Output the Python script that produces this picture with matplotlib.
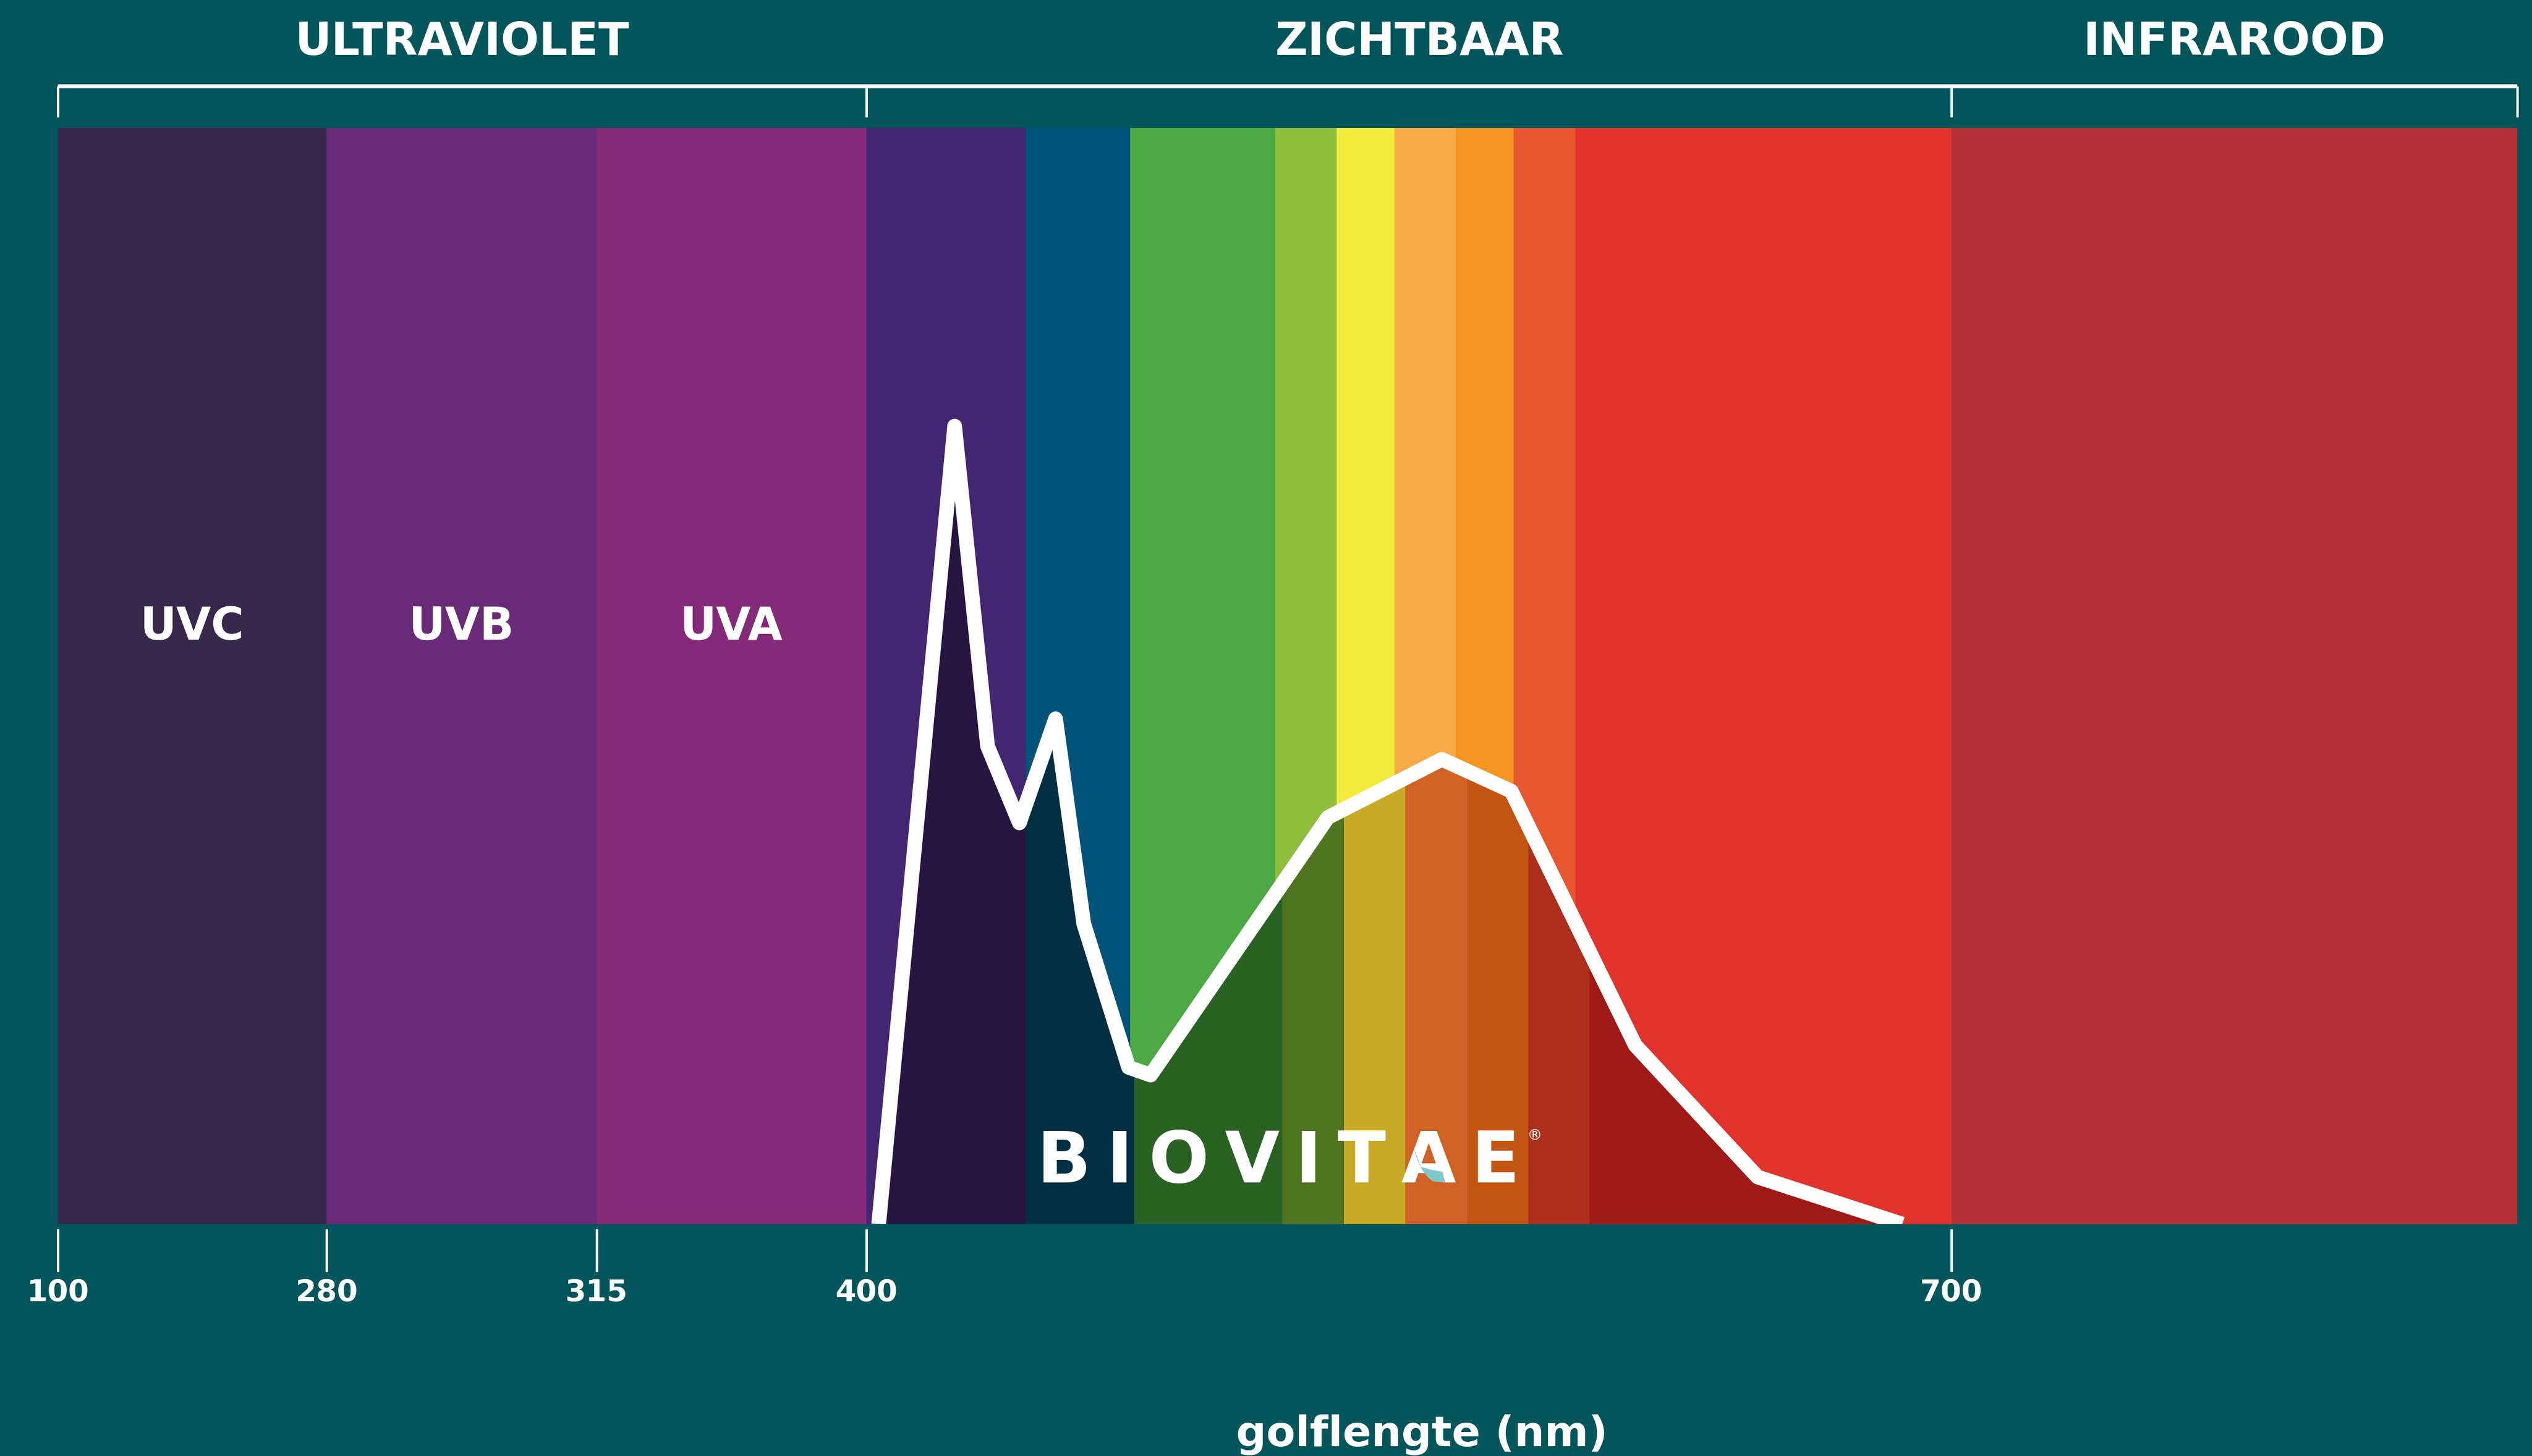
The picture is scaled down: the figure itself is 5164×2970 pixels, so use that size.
import matplotlib
matplotlib.use("Agg")
import matplotlib.pyplot as plt
import matplotlib.patches as mpatches
from matplotlib.path import Path
import numpy as np

# --- data -------------------------------------------------------------
# wavelength knots and where they sit along the (non-linear) x axis
wl_knots = [100, 280, 315, 400, 700, 1000]
pos_knots = [0, 548, 1099, 1649, 3862, 5016]

tick_wl = [100, 280, 315, 400, 700]
tick_labels = ["100", "280", "315", "400", "700"]

region_edges = [100, 400, 700, 1000]
region_names = ["ULTRAVIOLET", "ZICHTBAAR", "INFRAROOD"]

uv_names = ["UVC", "UVB", "UVA"]

band_edges = [100, 280, 315, 400, 444, 473, 513, 530, 546, 563, 579, 596, 700, 1000]
band_colors = ["#37284C", "#692A77", "#852A79", "#432672", "#015379", "#4BA843",
               "#8EBE3C", "#F4EA3C", "#F5AA46", "#F69522", "#E8562F", "#E2322C",
               "#B33134"]

shade_edges = [400, 444, 474, 515, 532, 549, 566, 583, 600, 700]
shade_colors = ["#261542", "#002F43", "#2A6224", "#4F7420", "#C8AA26",
                "#D06226", "#C45412", "#AB2F1A", "#9F1A17"]

# lamp spectrum (relative intensity, 0-100)
spec_wl = [403.4, 424.4, 433.5, 442.3, 452.3, 460.1, 472.5, 478.6,
           527.6, 559.1, 578.3, 612.6, 646.4, 686.4]
spec_val = [0, 72.8, 43.6, 36.6, 46.1, 27.4, 14.3, 13.6,
            37.1, 42.4, 39.5, 16.3, 4.3, 0]

bg = "#02565B"
W, H = 5164, 2970


def fwd(x):
    return np.interp(x, wl_knots, pos_knots)


def inv(p):
    return np.interp(p, pos_knots, wl_knots)


fig = plt.figure(figsize=(W / 100, H / 100), dpi=100, facecolor=bg)
ax = fig.add_axes([118 / W, (H - 2497) / H, (5134 - 118) / W, (2497 - 261) / H])
ax.set_facecolor(bg)
ax.set_xscale("function", functions=(fwd, inv))
ax.set_xlim(100, 1000)
ax.set_ylim(0, 100)

# colour bands
for i, c in enumerate(band_colors):
    ax.axvspan(band_edges[i], band_edges[i + 1], color=c, lw=0, zorder=1)

# darker bands under the spectrum curve
under = mpatches.Polygon(list(zip(spec_wl, spec_val)) + [(spec_wl[0], 0)],
                         closed=True, facecolor="none", edgecolor="none")
ax.add_patch(under)
for i, c in enumerate(shade_colors):
    r = ax.axvspan(shade_edges[i], shade_edges[i + 1], color=c, lw=0, zorder=2)
    r.set_clip_path(under)

ax.plot(spec_wl, spec_val, color="white", lw=21.6, solid_joinstyle="round",
        solid_capstyle="butt", zorder=3)

# UV band labels
for i, name in enumerate(uv_names):
    xc = inv((fwd(band_edges[i]) + fwd(band_edges[i + 1])) / 2)
    ax.text(xc, 53.3, name, color="white", fontsize=66, fontweight="bold",
            ha="center", va="baseline", zorder=4)

# bracket and region titles above the plot
xt = ax.get_xaxis_transform()
ax.plot([region_edges[0], region_edges[-1]], [1.038, 1.038], transform=xt,
        color="white", lw=5.8, solid_capstyle="butt", clip_on=False)
for e in region_edges:
    ax.plot([e, e], [1.010, 1.038], transform=xt, color="white", lw=3.6,
            solid_capstyle="butt", clip_on=False)
for i, name in enumerate(region_names):
    xc = inv((fwd(region_edges[i]) + fwd(region_edges[i + 1])) / 2)
    if name == "ZICHTBAAR":
        xc = 553
    ax.text(xc, 1.0667, name, transform=xt, color="white", fontsize=66,
            fontweight="bold", ha="center", va="baseline", clip_on=False)

# axis ticks
for s in ax.spines.values():
    s.set_visible(False)
ax.spines["bottom"].set_position(("outward", 7.2))
ax.set_yticks([])
ax.set_xticks(tick_wl)
ax.set_xticklabels(tick_labels)
ax.xaxis.set_minor_locator(matplotlib.ticker.NullLocator())
ax.tick_params(axis="x", direction="out", length=62.6, width=3.6, color="white",
               pad=10, labelsize=44, labelcolor="white")
for lab in ax.get_xticklabels():
    lab.set_fontweight("bold")

fig.text(2900 / W, (H - 2949) / H, "golflengte (nm)", color="white",
         fontsize=62, fontweight="bold", ha="center", va="baseline")

# BIOVITAE logo: letters spread evenly between x=2115 and x=3100 px
logo = "BIOVITAE"
logo_left, logo_right, logo_base = 2115, 3100, 2412
renderer = fig.canvas.get_renderer()
letters = []
for ch in logo:
    t = fig.text(0, (H - logo_base) / H, ch, color="white", fontsize=104,
                 fontweight="bold", ha="left", va="baseline", zorder=5)
    letters.append(t)
widths = [t.get_window_extent(renderer).width for t in letters]
gap = (logo_right - logo_left - sum(widths)) / (len(logo) - 1)
x = logo_left
a_left, a_w = None, None
for t, w, ch in zip(letters, widths, logo):
    t.set_x(x / W)
    if ch == "A":
        a_left, a_w = x, w
    x += w + gap
fig.text((logo_right + 30) / W, (H - 2325) / H, "\u00ae", color="white",
         fontsize=22, ha="center", va="baseline", zorder=5)

# teal swoosh on the A (relative to the A glyph box)
sw = [(0.23, 2340), (0.35, 2395), (0.59, 2410), (0.81, 2412),
      (0.77, 2398), (0.76, 2390), (0.59, 2388), (0.36, 2380), (0.23, 2340)]
sw_codes = [Path.MOVETO, Path.CURVE3, Path.CURVE3, Path.LINETO,
            Path.LINETO, Path.LINETO, Path.CURVE3, Path.CURVE3, Path.CLOSEPOLY]
sw_path = Path([((a_left + fx * a_w) / W, (H - y) / H) for fx, y in sw], sw_codes)
fig.add_artist(mpatches.PathPatch(sw_path, facecolor="#7FC9C9", edgecolor="none",
                                  transform=fig.transFigure, zorder=6))

fig.savefig("out.png", dpi=100, facecolor=bg)
